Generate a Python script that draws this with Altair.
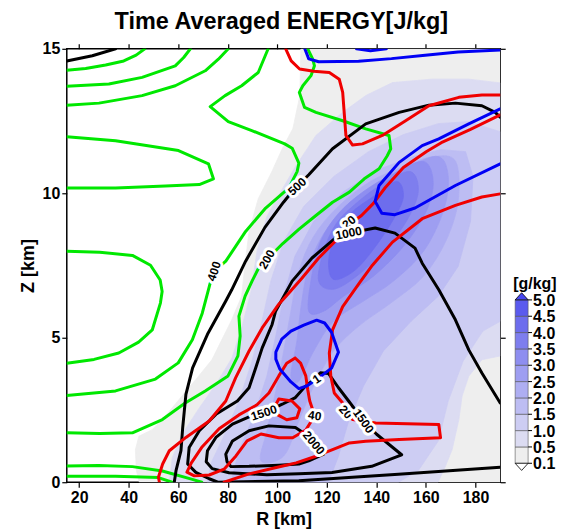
import altair as alt
import pandas as pd

# ---------------- axes ----------------
r_domain = [15, 190]
z_domain = [0, 15]
r_ticks = [20, 40, 60, 80, 100, 120, 140, 160, 180]
z_ticks = [0, 5, 10, 15]

# ---------------- shading (mixing ratio, g/kg) : region boundaries ----------------
shade_levels = ["0.1", "0.5", "1.0", "1.5", "2.0", "2.5", "3.0", "3.5", "4.0", "4.5"]
cbar_labels = ["0.1", "0.5", "1.0", "1.5", "2.0", "2.5", "3.0", "3.5", "4.0", "4.5", "5.0"]

s01_r = [109.5, 109.1, 106.3, 102.2, 97.7, 92.3, 88.6, 87.0, 85.6, 81.6, 77.6, 73.6, 68.2, 61.5, 54.8, 49.5, 44.1, 42.7, 43.1, 44.3, 190, 190]
s01_z = [15.0, 13.38, 12.24, 11.58, 10.73, 9.81, 8.68, 7.58, 6.44, 5.62, 4.93, 4.24, 3.67, 2.98, 2.29, 1.82, 1.59, 1.12, 0.40, 0, 0, 15]

s05_r = [190, 177.3, 162.5, 146.5, 135.7, 126.4, 115.6, 107.6, 102.6, 95.8, 91.8, 89.4, 85.8, 81.7, 75.3, 68.5, 61.6, 57.6, 56.4, 164.9, 167.9, 170.6, 173.3, 174.6, 177.3, 182.6, 190]
s05_z = [13.82, 13.95, 13.95, 13.83, 13.38, 12.80, 12.0, 10.96, 10.23, 9.20, 7.99, 6.61, 5.40, 4.30, 3.40, 2.57, 1.67, 0.85, 0, 0, 0.56, 1.13, 2.17, 2.98, 3.67, 4.24, 4.37]

s10_r = [190, 177.0, 165.0, 150.9, 136.8, 122.8, 110.7, 102.6, 97.4, 93.8, 89.8, 84.5, 78.5, 73.3, 71.7, 148.9, 156.9, 165.0, 169.0, 175.0, 183.0, 190]
s10_z = [12.13, 12.48, 12.41, 12.03, 11.44, 10.58, 9.55, 8.34, 6.96, 5.57, 4.19, 2.81, 1.61, 0.67, 0, 0, 0.40, 1.43, 2.81, 4.19, 5.23, 5.57]

s15_r = [176.0, 166.0, 154.9, 140.8, 126.8, 114.7, 107.1, 102.6, 99.4, 95.8, 90.6, 84.5, 81.3, 120.7, 124.7, 128.8, 134.8, 142.8, 154.0, 165.0, 173.0, 178.0, 179.0]
s15_z = [11.44, 11.51, 11.27, 10.82, 10.06, 9.03, 7.82, 6.44, 5.06, 3.68, 2.30, 1.09, 0, 0, 0.91, 2.12, 3.33, 4.54, 5.57, 6.44, 7.47, 9.03, 10.58]

s20_r = [172.0, 163.0, 150.9, 137.6, 124.7, 114.7, 108.7, 105.5, 102.6, 99.4, 95.8, 93.4, 102.6, 108.7, 114.7, 122.7, 132.8, 146.9, 159.0, 168.0, 173.0]
s20_z = [11.10, 11.27, 10.92, 10.41, 9.55, 8.51, 7.30, 5.92, 4.54, 3.16, 1.78, 0.74, 0.91, 2.12, 3.33, 4.54, 5.40, 6.27, 7.13, 8.34, 9.72]

s25_r = [165.0, 152.9, 140.0, 128.0, 118.8, 112.7, 109.9, 107.9, 105.5, 108.7, 114.7, 122.7, 134.8, 146.9, 159.0, 167.0, 169.0]
s25_z = [11.27, 10.92, 10.34, 9.54, 8.61, 7.47, 6.27, 4.88, 3.68, 3.50, 4.54, 5.57, 6.27, 6.96, 7.99, 9.37, 10.58]

s30_r = [159.0, 146.9, 134.8, 124.7, 117.5, 113.9, 112.7, 118.7, 126.8, 138.8, 150.9, 160.1, 162.9]
s30_z = [11.10, 10.68, 10.06, 9.30, 8.34, 7.13, 5.92, 5.92, 6.44, 7.13, 8.16, 9.37, 10.41]

s35_r = [153.7, 142.8, 132.8, 123.9, 118.7, 116.7, 122.7, 132.0, 142.8, 152.1, 156.9]
s35_z = [10.75, 10.34, 9.72, 8.96, 7.99, 6.96, 6.68, 7.13, 7.99, 9.03, 10.06]

s40_r = [148.1, 138.8, 129.6, 123.5, 120.7, 122.7, 130.8, 138.8, 146.9, 150.9]
s40_z = [10.41, 9.89, 9.30, 8.51, 7.65, 7.02, 7.30, 8.06, 9.10, 9.89]

# ---------------- green contours ----------------
g1_r = [15, 22.6, 30.7, 38.0, 43.0, 46.5]
g1_z = [14.26, 14.32, 14.44, 14.58, 14.78, 15.0]
g2_r = [15, 32.0, 45.4, 58.8, 62.2, 64.9]
g2_z = [13.70, 13.78, 14.01, 14.41, 14.70, 15.0]
g3_r = [15, 28.0, 45.4, 58.8, 70.9, 76.2, 80.2]
g3_z = [13.05, 13.12, 13.38, 13.72, 14.24, 14.64, 15.0]
g4_r = [15, 34.7, 60.1, 72.2, 74.2, 68.5, 54.8, 34.7, 15]
g4_z = [11.96, 11.82, 11.48, 11.02, 10.50, 10.30, 10.25, 10.18, 10.18]
g400_r = [96.3, 92.3, 85.6, 78.9, 72.9, 80.2, 89.7, 103.0, 106.0, 108.7, 108.0, 104.6, 95.3, 87.2, 79.2, 74.5, 72.9, 69.7, 65.7, 60.0, 50.8, 34.7, 15]
g400_z = [15.0, 14.18, 13.72, 13.38, 13.0, 12.48, 12.17, 11.71, 11.56, 11.04, 10.75, 10.18, 9.49, 8.68, 7.65, 7.30, 6.89, 5.85, 4.93, 4.13, 3.57, 3.16, 3.0]
g200_r = [112.3, 114.3, 115.0, 113.6, 110.3, 108.9, 111.0, 115.6, 126.4, 135.7, 145.1, 145.8, 144.4, 141.1, 135.1, 129.1, 122.3, 115.6, 108.9, 102.2, 95.8, 92.2, 89.8, 87.0, 84.5, 85.0, 84.1, 80.1, 70.9, 62.8, 53.6, 41.5, 28.3, 15]
g200_z = [15.0, 14.64, 14.41, 14.07, 13.72, 13.49, 12.97, 12.80, 12.51, 12.23, 12.0, 11.54, 11.30, 10.85, 10.50, 10.04, 9.69, 9.23, 8.77, 8.26, 7.71, 7.37, 6.96, 6.44, 5.75, 5.06, 4.37, 3.68, 3.16, 2.74, 2.17, 1.71, 1.69, 1.71]
g5_r = [15, 28.3, 41.5, 48.8, 52.7, 53.5, 52.8, 49.5, 44.0, 36.0, 26.0, 15]
g5_z = [7.99, 7.96, 7.85, 7.51, 7.0, 6.6, 6.2, 5.27, 4.85, 4.47, 4.25, 4.12]
g6_r = [15, 27.9, 41.5, 53.6, 65.7, 69.5]
g6_z = [0.56, 0.58, 0.54, 0.39, 0.10, 0]
g7_r = [15, 34.7, 52.0, 57.5]
g7_z = [0.21, 0.21, 0.16, 0]

# ---------------- black contours (ENERGY) ----------------
k0_r = [15, 25.3, 34.7]
k0_z = [14.58, 14.76, 15.0]
k500_r = [190, 188.0, 182.6, 171.9, 161.2, 149.2, 135.7, 122.3, 112.7, 106.0, 102.5, 95.0, 87.2, 81.6, 79.2, 71.8, 65.8, 63.1, 61.8, 61.1, 59.1, 58.4]
k500_z = [12.63, 12.80, 13.03, 13.12, 13.05, 12.80, 12.40, 11.54, 10.64, 10.06, 9.69, 8.82, 7.65, 6.66, 6.27, 5.12, 3.96, 3.04, 1.89, 1.09, 0.40, 0]
k1000_r = [190, 182.6, 177.3, 171.9, 165.2, 158.5, 155.6, 147.5, 139.5, 128.8, 123.4, 114.0, 106.0, 99.3, 97.9, 93.9, 91.3, 88.6, 83.9, 75.2, 68.5, 64.4, 63.8, 67.1, 72.5, 76.0, 108.7, 148.9, 190]
k1000_z = [2.74, 3.78, 4.58, 5.62, 6.66, 7.58, 8.10, 8.62, 8.80, 8.62, 8.45, 7.76, 6.96, 5.92, 5.46, 4.65, 3.96, 3.27, 2.81, 2.35, 1.78, 1.20, 0.63, 0.34, 0.12, 0, 0.05, 0.28, 0.52]
k1500_r = [94.6, 102.0, 107.3, 111.1, 114.0, 117.4, 120.7, 124.7, 128.8, 134.8, 140.1, 150.2, 138.1, 122.1, 108.7, 95.8, 80.5, 73.7, 71.3, 71.8, 75.2, 81.9, 88.6, 94.6]
k1500_z = [2.40, 2.70, 2.93, 3.30, 3.50, 3.79, 3.76, 3.27, 2.81, 2.12, 1.66, 0.95, 0.55, 0.34, 0.29, 0.26, 0.33, 0.47, 0.71, 1.09, 1.55, 2.01, 2.26, 2.40]
k2000_r = [79.2, 81.9, 88.6, 96.6, 107.3, 111.4, 114.7, 118.7, 112.7, 108.7, 100.6, 88.6, 81.3, 79.7, 79.2]
k2000_z = [0.97, 1.43, 1.78, 1.95, 1.89, 1.66, 1.37, 0.97, 0.74, 0.63, 0.59, 0.55, 0.54, 0.71, 0.97]

# ---------------- red contours ----------------
rd1_r = [103.4, 105.6, 109.0, 114.7, 121.0, 125.0, 126.4, 127.0, 127.7, 130.4, 134.4, 142.4, 151.8, 161.2, 173.3, 182.6, 190]
rd1_z = [15.0, 14.58, 14.30, 14.22, 14.18, 13.95, 13.49, 12.80, 12.0, 11.67, 11.71, 12.0, 12.51, 13.03, 13.32, 13.40, 13.40]
rd2_r = [190, 177.8, 166.2, 160.1, 150.9, 143.6, 138.8, 134.0, 129.6, 124.7, 116.7, 110.0, 104.6, 100.6, 93.9, 88.6, 83.2, 79.2, 72.5, 63.1, 56.4, 53.7, 52.0, 52.4]
rd2_z = [12.71, 12.20, 11.75, 11.44, 10.89, 10.20, 9.65, 9.23, 8.96, 8.45, 7.76, 7.07, 6.54, 6.16, 5.34, 4.54, 3.62, 2.81, 2.12, 1.55, 1.09, 0.63, 0.17, 0]
rd3_r = [190, 182.6, 171.9, 158.5, 146.5, 138.4, 133.1, 126.4, 122.3, 121.0, 121.6, 123.0, 126.4, 128.0, 130.4, 139.7, 165.2, 165.9, 149.2, 135.7, 129.1, 122.3, 115.6, 107.6, 102.2, 88.6, 78.5]
rd3_z = [9.98, 9.87, 9.58, 9.12, 8.31, 7.51, 6.89, 6.08, 5.27, 4.47, 3.67, 3.09, 2.74, 2.43, 2.17, 2.05, 2.0, 1.54, 1.48, 1.42, 1.36, 1.13, 0.90, 0.67, 0.56, 0.29, 0]
rd40_r = [107.2, 103.8, 100.6, 96.6, 91.8, 84.5, 76.5, 69.7, 65.3, 63.5, 66.5, 72.5, 78.5, 83.3, 87.8, 93.4, 100.6, 106.2, 111.5, 115.1, 113.1, 112.3, 111.5, 109.4, 107.2]
rd40_z = [4.30, 4.12, 3.68, 3.09, 2.68, 2.33, 1.85, 1.23, 0.67, 0.35, 0.22, 0.25, 0.45, 0.91, 1.43, 1.67, 1.54, 1.54, 1.81, 2.30, 2.81, 3.19, 3.68, 4.12, 4.30]
rd5_r = [99.0, 100.6, 105.9, 109.1, 107.9, 103.8, 100.2, 99.0]
rd5_z = [2.62, 2.88, 2.81, 2.54, 2.23, 2.16, 2.33, 2.62]

# ---------------- blue contours ----------------
bl1_r = [111.1, 112.7, 116.7, 132.8, 146.1, 159.7, 173.0, 190]
bl1_z = [15.0, 14.65, 14.55, 14.57, 14.66, 14.78, 14.89, 14.96]
bl2_r = [132.0, 137.6, 144.0]
bl2_z = [15.0, 14.93, 15.0]
bl3_r = [190, 177.3, 165.2, 158.5, 149.2, 141.1, 139.5, 142.2, 147.5, 155.6, 171.9, 190]
bl3_z = [12.92, 12.40, 11.88, 11.65, 11.07, 10.27, 9.72, 9.31, 9.26, 9.49, 10.27, 11.02]
bl4_r = [99.4, 101.8, 105.5, 110.7, 115.9, 119.1, 121.9, 124.7, 121.9, 116.7, 111.9, 108.7, 105.5, 101.0, 99.4, 99.4]
bl4_z = [4.50, 4.95, 5.23, 5.44, 5.61, 5.51, 5.19, 4.50, 3.95, 3.61, 3.33, 3.24, 3.47, 3.92, 4.26, 4.50]

# ---------------- contour labels ----------------
label_text = ["20", "500", "1000", "200", "400", "1500", "1", "40", "20", "1500", "2000"]
label_r = [129.0, 108.0, 128.8, 95.8, 74.5, 94.6, 115.9, 115.1, 127.6, 134.8, 114.7]
label_z = [9.00, 10.23, 8.62, 7.71, 7.30, 2.40, 3.57, 2.30, 2.43, 2.12, 1.36]
label_angle = [322, 318, 348, 300, 288, 342, 325, 8, 48, 55, 50]

# ================= styling =================
FONT = "Liberation Sans"
shade_colors = ["#eeeeee", "#dcdcf2", "#cdcdf3", "#bdbdf3", "#aeaef2", "#9e9ef1",
                "#8e8ef0", "#7e7eee", "#6d6ded", "#5a5aee"]
top_color = "#4646f0"


def poly(r, z, name):
    return pd.DataFrame({"R": r, "Z": z, "i": list(range(len(r))), "id": name})


xs = alt.Scale(domain=r_domain, nice=False, zero=False)
ys = alt.Scale(domain=z_domain, nice=False, zero=False)
X = alt.X("R:Q", scale=xs, axis=None)
Y = alt.Y("Z:Q", scale=ys, axis=None)

layers = []

shade_polys = [(s01_r, s01_z, "linear-closed"), (s05_r, s05_z, "linear-closed"),
               (s10_r, s10_z, "linear-closed"), (s15_r, s15_z, "linear-closed"),
               (s20_r, s20_z, "cardinal-closed"), (s25_r, s25_z, "cardinal-closed"),
               (s30_r, s30_z, "cardinal-closed"), (s35_r, s35_z, "cardinal-closed"),
               (s40_r, s40_z, "cardinal-closed")]
for k, (r, z, interp) in enumerate(shade_polys):
    col = shade_colors[k]
    layers.append(
        alt.Chart(poly(r, z, shade_levels[k])).mark_line(
            fill=col, stroke=col, strokeWidth=0.8, interpolate=interp, clip=True
        ).encode(X, Y, order="i:Q")
    )

families = [
    ("#00e800", [(g1_r, g1_z), (g2_r, g2_z), (g3_r, g3_z), (g4_r, g4_z), (g400_r, g400_z),
                 (g200_r, g200_z), (g5_r, g5_z), (g6_r, g6_z), (g7_r, g7_z)]),
    ("#000000", [(k0_r, k0_z), (k500_r, k500_z), (k1000_r, k1000_z), (k1500_r, k1500_z),
                 (k2000_r, k2000_z)]),
    ("#f00000", [(rd1_r, rd1_z), (rd2_r, rd2_z), (rd3_r, rd3_z), (rd40_r, rd40_z), (rd5_r, rd5_z)]),
    ("#0000f5", [(bl1_r, bl1_z), (bl2_r, bl2_z), (bl3_r, bl3_z), (bl4_r, bl4_z)]),
]
for col, segs in families:
    df = pd.concat([poly(r, z, f"{col}-{j}") for j, (r, z) in enumerate(segs)], ignore_index=True)
    layers.append(
        alt.Chart(df).mark_line(color=col, strokeWidth=3, clip=True, strokeJoin="round", strokeCap="round")
        .encode(X, Y, detail="id:N", order="i:Q")
    )

lab_df = pd.DataFrame({"R": label_r, "Z": label_z, "txt": label_text, "ang": label_angle})
for j in range(len(label_text)):
    one = lab_df.iloc[[j]]
    common = dict(font=FONT, fontSize=12, fontWeight="bold", align="center", baseline="middle")
    layers.append(alt.Chart(one).mark_text(stroke="white", strokeWidth=6, strokeJoin="round",
                                           fill="white", **common)
                  .encode(X, Y, text="txt:N", angle=alt.Angle("ang:Q", scale=None)))
    layers.append(alt.Chart(one).mark_text(color="black", **common)
                  .encode(X, Y, text="txt:N", angle=alt.Angle("ang:Q", scale=None)))

axis_df = pd.DataFrame({"R": r_domain, "Z": z_domain})
layers.append(
    alt.Chart(axis_df).mark_point(opacity=0).encode(
        x=alt.X("R:Q", scale=xs, axis=alt.Axis(orient="bottom", values=r_ticks, title="R [km]")),
        y=alt.Y("Z:Q", scale=ys, axis=alt.Axis(orient="left", values=z_ticks, title="Z [km]")),
    )
)
layers.append(
    alt.Chart(axis_df).mark_point(opacity=0).encode(
        x=alt.X("R:Q", scale=xs, axis=alt.Axis(orient="top", values=r_ticks, labels=False, title=None)),
        y=alt.Y("Z:Q", scale=ys, axis=alt.Axis(orient="right", values=z_ticks, labels=False, title=None)),
    )
)

main = alt.layer(*layers).properties(
    width=435, height=435, view=alt.ViewBackground(stroke="black", strokeWidth=1.5)
)

# ---------------- colour bar ----------------
cb_df = pd.DataFrame({"lo": list(range(10)), "hi": list(range(1, 11)), "lvl": shade_levels})
cbl_df = pd.DataFrame({"k": list(range(11)), "lab": cbar_labels})
cys = alt.Scale(domain=[-1.16, 25.37], nice=False, zero=False)
cxs = alt.Scale(domain=[0, 1], nice=False, zero=False)

bars = alt.Chart(cb_df).mark_rect(stroke="#555555", strokeWidth=0.6).encode(
    x=alt.datum(0, scale=cxs, axis=None), x2=alt.datum(1),
    y=alt.Y("lo:Q", scale=cys, axis=None),
    y2="hi:Q",
    color=alt.Color("lvl:N", scale=alt.Scale(domain=shade_levels, range=shade_colors), legend=None),
)
cb_ticks = alt.Chart(cbl_df).mark_rule(color="black", strokeWidth=1).encode(
    x=alt.datum(1, scale=cxs, axis=None), x2=alt.datum(1.3),
    y=alt.Y("k:Q", scale=cys, axis=None),
)
cb_text = alt.Chart(cbl_df).mark_text(
    font=FONT, fontSize=16, fontWeight="bold", align="left", baseline="middle", dx=5, dy=1, color="black"
).encode(x=alt.datum(1, scale=cxs, axis=None), y=alt.Y("k:Q", scale=cys, axis=None), text="lab:N")
tri_df = pd.DataFrame({"x": [0.5], "y": [10.22]})
tri_top = alt.Chart(tri_df).mark_point(
    shape="M-1,0.55L0,-0.55L1,0.55Z", size=169, filled=True, fill=top_color, stroke="black", strokeWidth=0.8, opacity=1
).encode(x=alt.X("x:Q", scale=cxs, axis=None), y=alt.Y("y:Q", scale=cys, axis=None))
tri_df2 = pd.DataFrame({"x": [0.5], "y": [-0.22]})
tri_bot = alt.Chart(tri_df2).mark_point(
    shape="M-1,-0.55L0,0.55L1,-0.55Z", size=169, filled=True, fill="white", stroke="black", strokeWidth=0.8, opacity=1
).encode(x=alt.X("x:Q", scale=cxs, axis=None), y=alt.Y("y:Q", scale=cys, axis=None))
cb_title = alt.Chart(pd.DataFrame({"x": [0], "y": [10.98], "t": ["[g/kg]"]})).mark_text(
    font=FONT, fontSize=16, fontWeight="bold", align="left", baseline="middle", dx=-2, color="black"
).encode(x=alt.X("x:Q", scale=cxs, axis=None), y=alt.Y("y:Q", scale=cys, axis=None), text="t:N")

cbar = alt.layer(bars, cb_ticks, cb_text, tri_top, tri_bot, cb_title).properties(width=13, height=435)

chart = alt.hconcat(main, cbar, spacing=15, bounds="flush").properties(
    title=alt.TitleParams("Time Averaged ENERGY[J/kg]", font=FONT, fontSize=23.5, fontWeight="bold",
                          anchor="start", frame="group", dx=48, offset=7, color="black"),
    padding={"left": 10, "top": 0, "right": 2, "bottom": 0},
).configure_view(stroke="transparent").configure_axis(
    labelFont=FONT, labelFontSize=16, labelFontWeight="bold", labelColor="black",
    titleFont=FONT, titleFontSize=18, titleFontWeight="bold", titleColor="black",
    tickColor="black", tickWidth=1.2, tickSize=5, labelPadding=2, titlePadding=5,
    domain=False, grid=False,
)

chart.save("out.html", embed_options={"renderer": "svg", "actions": False})
